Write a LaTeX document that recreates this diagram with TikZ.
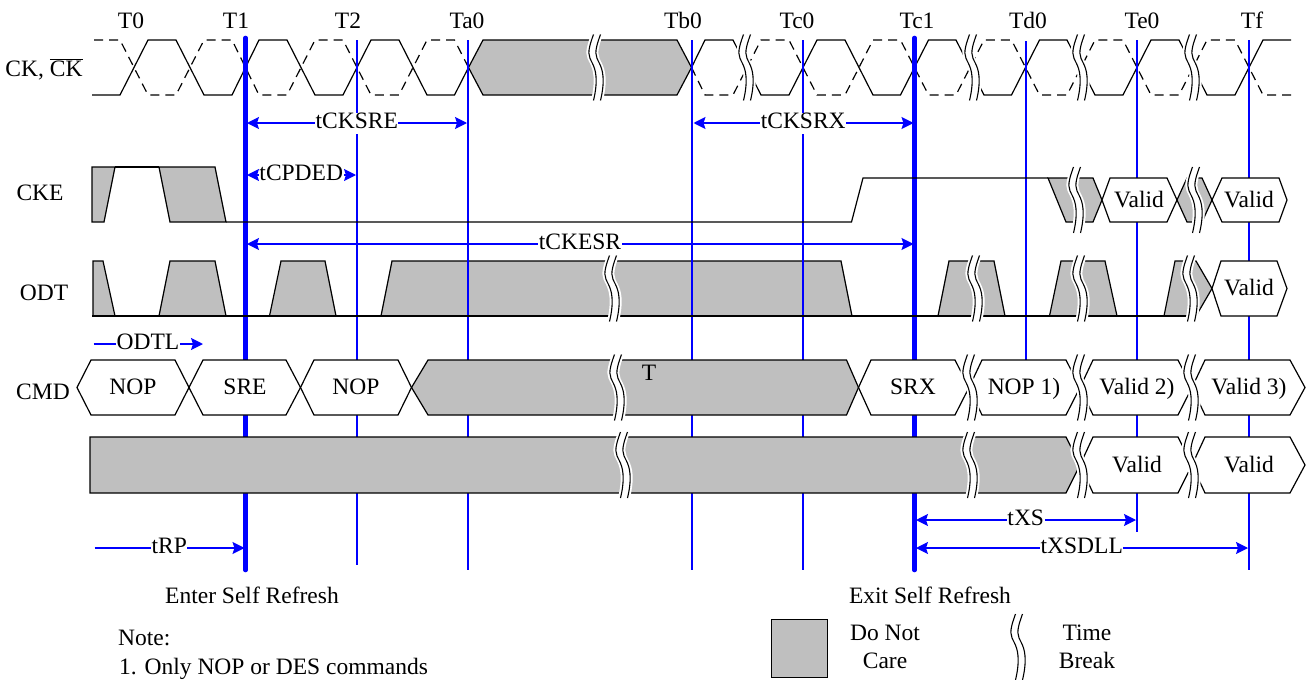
\documentclass[tikz,border=0pt]{standalone}
\usepackage{fontspec}
\setmainfont{Liberation Serif}
\usepackage{xcolor}
\usetikzlibrary{arrows.meta}
\definecolor{dontcare}{HTML}{BFBFBF}
\definecolor{tickblue}{HTML}{0000FF}
\newcommand{\labelfont}{\fontsize{23.5}{27}\selectfont}
\tikzset{
  wave/.style={draw=black,line width=1.2pt,line join=miter},
  dashwave/.style={wave,dash pattern=on 9pt off 6pt},
  greywave/.style={wave,fill=dontcare},
  cell/.style={wave,fill=white},
  thintick/.style={draw=tickblue,line width=1.8pt},
  boldtick/.style={draw=tickblue,line width=4.6pt,line cap=round},
  tlabel/.style={font=\labelfont,inner sep=0pt,text height=16pt,text depth=5pt},
  span/.style={draw=tickblue,line width=1.4pt,shorten <=1.5pt,shorten >=1pt,
    -{Stealth[length=12pt,width=12pt,inset=2pt]}},
  bothspan/.style={span,{Stealth[length=12pt,width=12pt,inset=2pt]}-{Stealth[length=12pt,width=12pt,inset=2pt]}},
  spanlabel/.style={tlabel,fill=white,inner xsep=0.5pt},
  breakline/.style={black,line width=1.1pt},
  timebreak/.pic={
    \fill[white] (-5,-33) .. controls (-12,-14) and (-10,-12) .. (-6,-4) .. controls (-3,2) and (0,12) .. (-5,33)
      -- (7,33) .. controls (12,12) and (9,2) .. (6,-4) .. controls (2,-12) and (0,-14) .. (7,-33) -- cycle;
    \draw[breakline] (-2.5,-33) .. controls (-9.5,-14) and (-7.5,-12) .. (-3.5,-4)
      .. controls (-0.5,2) and (2.5,12) .. (-2.5,33);
    \draw[breakline] (4.5,-33) .. controls (-2.5,-14) and (-0.5,-12) .. (3.5,-4)
      .. controls (6.5,2) and (9.5,12) .. (4.5,33);
  }
}
\begin{document}
\begin{tikzpicture}[x=1pt,y=-1pt]
  \useasboundingbox (0,0) rectangle (1310,680);
  % ODT fills sit under the tick lines
  \draw[greywave] (93,261) -- (103,261) -- (115,316) -- (93,316) -- cycle;
  \draw[greywave] (159,316) -- (170,261) -- (215,261) -- (226,316) -- cycle;
  \draw[greywave] (269.5,316) -- (281,261) -- (325,261) -- (336,316) -- cycle;
  \draw[greywave] (381,316) -- (392,261) -- (841,261) -- (852,316) -- cycle;
  \draw[greywave] (938,316) -- (949,261) -- (994,261) -- (1005,316) -- cycle;
  \draw[greywave] (1049.5,316) -- (1061,261) -- (1105,261) -- (1117,316) -- cycle;
  \draw[greywave] (1164,316) -- (1175,261) -- (1196,261) -- (1212,288.5) -- (1196,316) -- cycle;
  % clock
  \draw[wave] (92,95) -- (120,95) -- (148,40) -- (176,40) -- (204,95) -- (232,95) -- (259,40)
    -- (287,40) -- (315,95) -- (343,95) -- (371,40) -- (399,40) -- (427,95) -- (454.5,95) -- (468.5,67.5);
  \draw[dashwave] (94,40) -- (120,40) -- (148,95) -- (176,95) -- (204,40) -- (232,40) -- (259,95)
    -- (287,95) -- (315,40) -- (343,40) -- (371,95) -- (399,95) -- (427,40) -- (454.5,40) -- (468.5,67.5);
  \draw[greywave] (468.5,67.5) -- (483,40) -- (677,40) -- (691.5,67.5) -- (677,95) -- (483,95) -- cycle;
  \draw[wave] (691.5,67.5) -- (705,40) -- (733,40) -- (761,95) -- (789,95) -- (817,40) -- (845,40)
    -- (873,95) -- (900.5,95) -- (928.5,40) -- (956,40) -- (984,95) -- (1011.5,95) -- (1039.5,40)
    -- (1067,40) -- (1095,95) -- (1123,95) -- (1151,40) -- (1179,40) -- (1207,95) -- (1235,95)
    -- (1263,40) -- (1291,40);
  \draw[dashwave] (691.5,67.5) -- (705,95) -- (733,95) -- (761,40) -- (789,40) -- (817,95) -- (845,95)
    -- (873,40) -- (900.5,40) -- (928.5,95) -- (956,95) -- (984,40) -- (1011.5,40) -- (1039.5,95)
    -- (1067,95) -- (1095,40) -- (1123,40) -- (1151,95) -- (1179,95) -- (1207,40) -- (1235,40)
    -- (1263,95) -- (1291,95);
  % tick lines
  \foreach \tick/\xpos/\ytop/\yend/\kind in {t1/245.5/38/570/boldtick,t2/357/40/565/thintick,
      ta0/468/40/570/thintick,tb0/692/40/570/thintick,tc0/803/40/570/thintick,
      tc1/914.5/38/570/boldtick,td0/1026/41/360/thintick,te0/1137/40/532/thintick,
      tf/1249/40/570/thintick}{
    \coordinate (\tick) at (\xpos,\ytop);
    \coordinate (\tick end) at (\xpos,\yend);
    \draw[\kind] (\tick) -- (\tick end);
  }
  % CKE and the ODT base line
  \draw[greywave] (92,167) -- (115,167) -- (104,222) -- (92,222) -- cycle;
  \draw[wave] (115,167) -- (159,167);
  \draw[greywave] (159,167) -- (215,167) -- (226,222) -- (170,222) -- cycle;
  \draw[wave] (226,222) -- (851.5,222) -- (863,178) -- (1048,178);
  \draw[greywave] (1048,178) -- (1093,178) -- (1102,200) -- (1093,222) -- (1066,222) -- cycle;
  \draw[greywave] (1177,200) -- (1187,178) -- (1202,178) -- (1212,200) -- (1202,222) -- (1187,222) -- cycle;
  \draw[wave] (92,316) -- (1196,316);
  % CMD and address rows
  \draw[greywave] (411.5,387.5) -- (428,360) -- (846.5,360) -- (858.5,387.5) -- (846.5,415) -- (428,415) -- cycle;
  \draw[greywave] (90,437) -- (1066,437) -- (1080,465) -- (1066,493) -- (90,493) -- cycle;
  \foreach \cellname/\xl/\xa/\xb/\xr/\ya/\ym/\yb/\cx/\txt in {
      ckevalida/1102/1110/1167/1177/178/200/222/1139/Valid,
      ckevalidb/1212/1222/1279/1287/178/200/222/1249/Valid,
      odtvalid/1212/1221/1277/1287/261/288.5/316/1249/Valid,
      cmdnopa/77/91/175/189/360/387.5/415/133/NOP,
      cmdsre/189/203/286/300.5/360/387.5/415/245/SRE,
      cmdnopb/300.5/314/398/411.5/360/387.5/415/356/NOP,
      cmdsrx/858.5/871/955/969/360/387.5/415/913/SRX,
      cmdnopc/969/982/1066/1080/360/387.5/415/1024/NOP 1),
      cmdvalida/1080/1093/1178/1192/360/387.5/415/1137/Valid 2),
      cmdvalidb/1192/1205/1290/1305/360/387.5/415/1249/Valid 3),
      addrvalida/1080/1093/1178/1192/437/465/493/1137/Valid,
      addrvalidb/1192/1205/1290/1305/437/465/493/1249/Valid}{
    \draw[cell] (\xl,\ym) -- (\xa,\ya) -- (\xb,\ya) -- (\xr,\ym) -- (\xb,\yb) -- (\xa,\yb) -- cycle;
    \node[tlabel,yshift=-1.5pt] (\cellname) at (\cx,\ym) {\txt};
  }
  \node[tlabel] (stray) at (649,375) {T};
  % time breaks
  \foreach \bx/\by in {596/67.5,746/67.5,972/67.5,1080/67.5,1192/67.5,
      1076/200,1195/200,612/288.5,975/288.5,1080/288.5,1190/288.5,
      617/387.5,970/387.5,1080/387.5,1191/387.5,
      623/465,970/465,1080/465,1191/465,1018/647}{
    \pic at (\bx,\by) {timebreak};
  }
  % clock edge names
  \foreach \headname/\xpos/\txt in {headt0/131/T0,headt1/236/T1,headt2/348/T2,headta0/467/Ta0,
      headtb0/683/Tb0,headtc0/797/Tc0,headtc1/917/Tc1,headtd0/1028/Td0,headte0/1142/Te0,headtf/1252/Tf}{
    \node[tlabel] (\headname) at (\xpos,22.5) {\txt};
  }
  % signal names
  \node[tlabel] (cklabel) at (44,70.5) {CK, $\overline{\mbox{CK}}$};
  \node[tlabel] (ckelabel) at (40,194.5) {CKE};
  \node[tlabel] (odtlabel) at (44,294.5) {ODT};
  \node[tlabel] (cmdlabel) at (43,393.5) {CMD};
  % timing spans
  \coordinate (odtlstart) at (92,344);
  \coordinate (odtlend) at (204,344);
  \coordinate (rpstart) at (93,548);
  \draw[bothspan] (t1 |- 0,123) -- node[spanlabel] (cksre) {tCKSRE} (ta0 |- 0,123);
  \draw[bothspan] (tb0 |- 0,123) -- node[spanlabel] (cksrx) {tCKSRX} (tc1 |- 0,123);
  \draw[bothspan] (t1 |- 0,175) -- node[spanlabel] (cpded) {tCPDED} (t2 |- 0,175);
  \draw[bothspan] (t1 |- 0,244) -- node[spanlabel] (ckesr) {tCKESR} (tc1 |- 0,244);
  \draw[span] (odtlstart) -- node[spanlabel] (odtl) {ODTL} (odtlend);
  \draw[span] (rpstart) -- node[spanlabel] (rp) {tRP} (t1 |- rpstart);
  \draw[bothspan] (tc1 |- 0,520) -- node[spanlabel] (xs) {tXS} (te0 |- 0,520);
  \draw[bothspan] (tc1 |- 0,548) -- node[spanlabel] (xsdll) {tXSDLL} (tf |- 0,548);
  % captions and legend
  \node[tlabel] (enter) at (252,597.5) {Enter Self Refresh};
  \node[tlabel] (exit) at (930,597.5) {Exit Self Refresh};
  \node[tlabel,anchor=west] (note) at (118,639.5) {Note:};
  \node[tlabel,anchor=west] (noteone) at (119,668.5) {1. Only NOP or DES commands};
  \node[greywave,line width=1pt,minimum width=56pt,minimum height=58pt,inner sep=0pt] (legendbox) at (799,648) {};
  \node[tlabel] (donot) at (885,634.5) {Do Not};
  \node[tlabel] (care) at (885,662.5) {Care};
  \node[tlabel] (time) at (1087,634.5) {Time};
  \node[tlabel] (break) at (1087,662.5) {Break};
\end{tikzpicture}
\end{document}
